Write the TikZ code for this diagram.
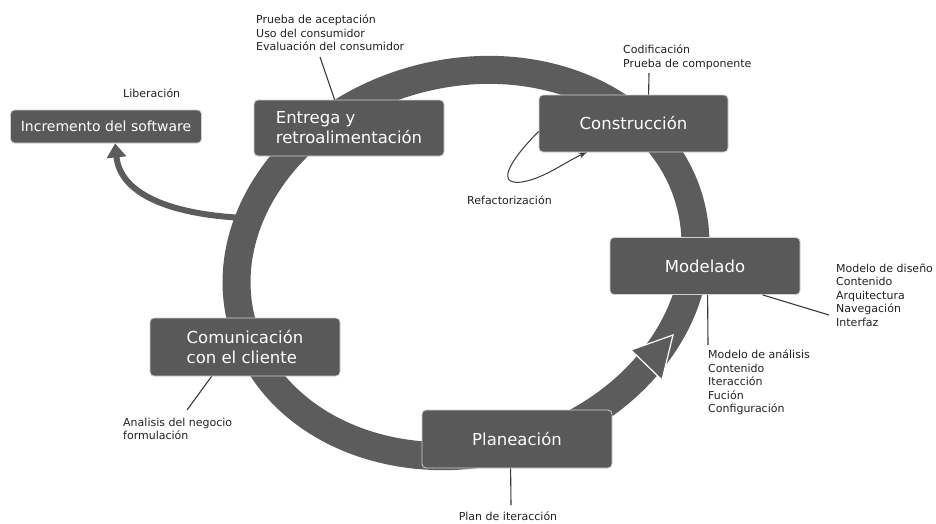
\documentclass[tikz,border=0pt]{standalone}
\usepackage{fontspec}
\setmainfont{DejaVu Sans}
\usetikzlibrary{arrows.meta,calc}
\definecolor{ringgray}{HTML}{5C5C5C}
\definecolor{boxgray}{HTML}{595959}
\definecolor{boxline}{HTML}{D0D0D0}
\definecolor{txt}{HTML}{222222}
\definecolor{linegray}{HTML}{3A3A3A}
\begin{document}
\begin{tikzpicture}[x=1pt,y=-1pt,
  box/.style={fill=boxgray, draw=boxline, line width=0.8pt, rounded corners=4pt,
    text=white, inner sep=0pt, font=\fontsize{16.5}{20}\selectfont},
  lbl/.style={text=txt, inner sep=0pt, align=left, anchor=north west,
    font=\fontsize{11}{13.5}\selectfont, execute at begin node=\strut},
  leader/.style={draw=linegray, line width=1.1pt},
]
\useasboundingbox[fill=white] (0,0) rectangle (936,523);
% main cycle ring
\draw[ringgray, line width=28pt, rotate around={15:(466,263)}] (466,263) ellipse [x radius=232, y radius=190];
% arrow head on the ring
\filldraw[fill=ringgray, draw=white, line width=1.2pt] (631,350) -- (673,335) -- (662,380) -- cycle;
% boxes
\node[box, minimum width=191pt, minimum height=33pt, font=\fontsize{14}{17}\selectfont] (incr) at (106,126.5) {Incremento del software};
\node[box, minimum width=190pt, minimum height=56pt, align=left] (entrega) at (349,128) {Entrega y\\retroalimentación};
\node[box, minimum width=189pt, minimum height=57pt] (constr) at (633.5,123.5) {Construcción};
\node[box, minimum width=190pt, minimum height=57pt] (model) at (705,266) {Modelado};
\node[box, minimum width=190pt, minimum height=58pt, align=left] (comun) at (245,347) {Comunicación\\con el cliente};
\node[box, minimum width=190pt, minimum height=58pt] (plan) at (517,439) {Planeación};
% release arrow
\coordinate (ringL) at (244,218);
\draw[ringgray, line width=6pt, -{Triangle[width=19pt,length=14pt]}] (ringL) .. controls (165,214) and (120,192) .. ($(incr.south west)+(105,0)$);
% labels
\node[lbl] (lib) at (123,87.5) {Liberación};
\node[lbl] (lentrega) at (256,14.5) {Prueba de aceptación\\Uso del consumidor\\Evaluación del consumidor};
\node[lbl] (lconstr) at (623,44.5) {Codificación\\Prueba de componente};
\node[lbl] (lrefac) at (467,194.5) {Refactorización};
\node[lbl] (ldis) at (836,263.5) {Modelo de diseño\\Contenido\\Arquitectura\\Navegación\\Interfaz};
\node[lbl] (lana) at (708,349.5) {Modelo de análisis\\Contenido\\Iteracción\\Fución\\Configuración};
\node[lbl] (lcom) at (123,417.5) {Analisis del negocio\\formulación};
\node[lbl, anchor=base] (lplan) at (508,520.5) {Plan de iteracción};
% leader lines
\coordinate (cE) at (320,57);
\coordinate (cC) at (649,73);
\coordinate (cMa) at (708,345);
\coordinate (cMd) at (829,315);
\coordinate (cCo) at (187,410);
\coordinate (cP) at (511,505);
\draw[leader] (cE) -- ($(entrega.north west)+(81,0)$);
\draw[leader] (cC) -- ($(constr.north west)+(110,0)$);
\draw[leader] ($(model.south west)+(98,0)$) -- (cMa);
\draw[leader] ($(model.south west)+(153,0)$) -- (cMd);
\draw[leader] ($(comun.south west)+(62,0)$) -- (cCo);
\draw[leader] ($(plan.south west)+(89,0)$) -- (cP);
% refactoring loop
\draw[draw=linegray, line width=1pt, -{Stealth[length=8pt,width=6pt]}] ($(constr.west)+(0,8)$) .. controls (515,155) and (492,186) .. (522,182) .. controls (545,178) and (565,162) .. ($(constr.south west)+(48,0)$);
\end{tikzpicture}
\end{document}
